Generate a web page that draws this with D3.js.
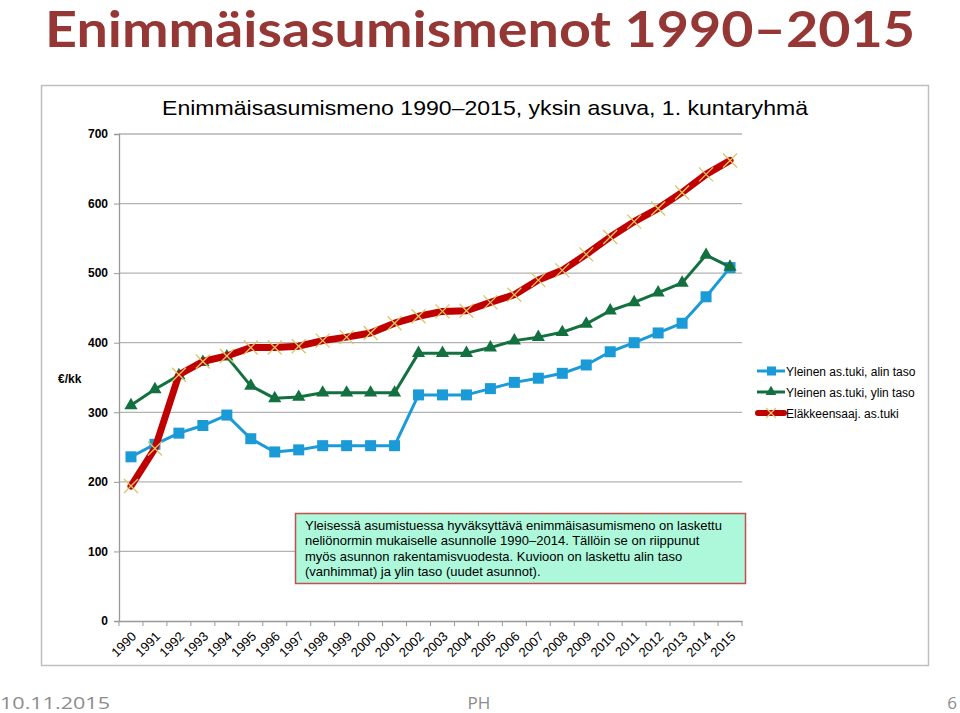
<!DOCTYPE html>
<html>
<head>
<meta charset="utf-8">
<script src="https://cdn.jsdelivr.net/npm/d3@7"></script>
<style>
  html, body { margin: 0; padding: 0; background: #fff; }
  svg { display: block; }
</style>
</head>
<body>
<svg id="chart" width="960" height="713"></svg>
<script>
const years = ["1990","1991","1992","1993","1994","1995","1996","1997","1998","1999","2000","2001","2002","2003","2004","2005","2006","2007","2008","2009","2010","2011","2012","2013","2014","2015"];
const alinTaso = [236, 254, 270, 281, 296, 262, 243, 246, 252, 252, 252, 252, 325, 325, 325, 334, 343, 349, 356, 368, 387, 400, 414, 428, 466, 508];
const ylinTaso = [310, 333, 353, 372, 380, 338, 320, 322, 328, 328, 328, 328, 385, 385, 385, 393, 403, 408, 415, 427, 446, 458, 472, 486, 526, 509];
const elake = [194, 248, 354, 373, 381, 393, 393, 395, 403, 408, 414, 428, 438, 445, 446, 458, 469, 490, 504, 527, 552, 574, 593, 616, 642, 662];
const yTicks = [0, 100, 200, 300, 400, 500, 600, 700];
const seriesNames = ["Yleinen as.tuki, alin taso", "Yleinen as.tuki, ylin taso", "Eläkkeensaaj. as.tuki"];
const slideTitle = "Enimmäisasumismenot 1990–2015";
const chartTitle = "Enimmäisasumismeno 1990–2015, yksin asuva, 1. kuntaryhmä";
const yLabel = "€/kk";
const noteLines = [
  "Yleisessä asumistuessa hyväksyttävä enimmäisasumismeno on laskettu",
  "neliönormin mukaiselle asunnolle 1990–2014. Tällöin se on riippunut",
  "myös asunnon rakentamisvuodesta. Kuvioon on laskettu alin taso",
  "(vanhimmat) ja ylin taso (uudet asunnot)."
];
const footer = ["10.11.2015", "PH", "6"];

const svg = d3.select("#chart");
const BLUE = "#1b9ad8", GREEN = "#13703f", RED = "#c00000", XCOL = "#d8c766";

// slide title
svg.append("text").attr("x", 45).attr("y", 47)
  .attr("font-family", "Lato, 'Open Sans', sans-serif").attr("font-weight", 700)
  .attr("font-size", 49).attr("fill", "#953735")
  .attr("textLength", 870).attr("lengthAdjust", "spacingAndGlyphs")
  .text(slideTitle);

// chart frame
svg.append("rect").attr("x", 41.5).attr("y", 85.5).attr("width", 887).attr("height", 580)
  .attr("fill", "#fff").attr("stroke", "#bfbfbf").attr("stroke-width", 1.5);

svg.append("text").attr("x", 485).attr("y", 115).attr("text-anchor", "middle")
  .attr("font-family", "'Liberation Sans Narrow', 'Liberation Sans', Arial, sans-serif")
  .attr("font-size", 21).attr("fill", "#000")
  .attr("textLength", 646).attr("lengthAdjust", "spacingAndGlyphs")
  .text(chartTitle);

const x = d3.scaleBand().domain(years).range([119, 742]).padding(0);
const y = d3.scaleLinear().domain([0, 700]).range([621, 134]);
const cx = d => x(d) + x.bandwidth() / 2;

// gridlines
svg.append("g").selectAll("line").data(yTicks.filter(v => v > 0)).join("line")
  .attr("x1", 119).attr("x2", 742).attr("y1", d => y(d)).attr("y2", d => y(d))
  .attr("stroke", "#b3b3b3").attr("stroke-width", 1.3);

// y axis
const yAxis = svg.append("g").attr("transform", "translate(119,0)")
  .call(d3.axisLeft(y).tickValues(yTicks).tickSize(5).tickPadding(6));
yAxis.select(".domain").attr("stroke", "#999").attr("stroke-width", 1.3);
yAxis.selectAll(".tick line").attr("stroke", "#999");
yAxis.selectAll(".tick text").attr("font-family", "'Liberation Sans', Arial, sans-serif")
  .attr("font-size", 12).attr("font-weight", 700).attr("fill", "#000");

svg.append("text").attr("x", 58).attr("y", 383)
  .attr("font-family", "'Liberation Sans', Arial, sans-serif").attr("font-size", 12)
  .attr("font-weight", 700).text(yLabel);

// x axis
const xAxis = svg.append("g").attr("transform", "translate(0,621)")
  .call(d3.axisBottom(x).tickSize(0).tickPadding(0));
xAxis.select(".domain").attr("stroke", "#999").attr("stroke-width", 1.3);
xAxis.selectAll(".tick text")
  .attr("font-family", "'Liberation Sans', Arial, sans-serif").attr("font-size", 13)
  .attr("fill", "#000").attr("text-anchor", "end")
  .attr("transform", "translate(3,13) rotate(-45)").attr("dy", "0.35em").attr("y", 0);
// x tick marks at category boundaries
svg.append("g").selectAll("line").data(years.concat(["end"])).join("line")
  .attr("x1", (d, i) => 119 + i * x.step()).attr("x2", (d, i) => 119 + i * x.step())
  .attr("y1", 621).attr("y2", 626).attr("stroke", "#999").attr("stroke-width", 1);

// lines
const line = d3.line().x((d, i) => cx(years[i])).y(d => y(d));

svg.append("path").datum(alinTaso).attr("d", line)
  .attr("fill", "none").attr("stroke", BLUE).attr("stroke-width", 3).attr("stroke-linejoin", "round");
svg.append("g").selectAll("rect").data(alinTaso).join("rect")
  .attr("x", (d, i) => cx(years[i]) - 5.5).attr("y", d => y(d) - 5.5)
  .attr("width", 11).attr("height", 11).attr("fill", BLUE);

svg.append("path").datum(ylinTaso).attr("d", line)
  .attr("fill", "none").attr("stroke", GREEN).attr("stroke-width", 3).attr("stroke-linejoin", "round");
const tri = d3.symbol().type(d3.symbolTriangle).size(75);
svg.append("g").selectAll("path").data(ylinTaso).join("path")
  .attr("d", tri).attr("transform", (d, i) => `translate(${cx(years[i])},${y(d)})`)
  .attr("fill", GREEN);

svg.append("path").datum(elake).attr("d", line)
  .attr("fill", "none").attr("stroke", RED).attr("stroke-width", 7).attr("stroke-linejoin", "round").attr("stroke-linecap", "round");
const xm = svg.append("g").selectAll("g").data(elake).join("g")
  .attr("transform", (d, i) => `translate(${cx(years[i])},${y(d)})`);
xm.append("line").attr("x1", -7).attr("y1", -7).attr("x2", 7).attr("y2", 7).attr("stroke", XCOL).attr("stroke-width", 1.3);
xm.append("line").attr("x1", -7).attr("y1", 7).attr("x2", 7).attr("y2", -7).attr("stroke", XCOL).attr("stroke-width", 1.3);

// legend
const legY = [371, 392, 413];
const leg = svg.append("g");
const legFont = "'Liberation Sans', Arial, sans-serif";
leg.append("line").attr("x1", 757).attr("x2", 785).attr("y1", legY[0]).attr("y2", legY[0]).attr("stroke", BLUE).attr("stroke-width", 3);
leg.append("rect").attr("x", 767).attr("y", legY[0] - 4.5).attr("width", 9).attr("height", 9).attr("fill", BLUE);
leg.append("line").attr("x1", 757).attr("x2", 785).attr("y1", legY[1]).attr("y2", legY[1]).attr("stroke", GREEN).attr("stroke-width", 3);
leg.append("path").attr("d", d3.symbol().type(d3.symbolTriangle).size(50)).attr("transform", `translate(771,${legY[1]})`).attr("fill", GREEN);
leg.append("line").attr("x1", 758).attr("x2", 784).attr("y1", legY[2]).attr("y2", legY[2]).attr("stroke", RED).attr("stroke-width", 6).attr("stroke-linecap", "round");
leg.append("line").attr("x1", 766).attr("y1", legY[2] - 5).attr("x2", 776).attr("y2", legY[2] + 5).attr("stroke", XCOL).attr("stroke-width", 1.2);
leg.append("line").attr("x1", 766).attr("y1", legY[2] + 5).attr("x2", 776).attr("y2", legY[2] - 5).attr("stroke", XCOL).attr("stroke-width", 1.2);
leg.selectAll("text").data(seriesNames).join("text")
  .attr("x", 786).attr("y", (d, i) => legY[i] + 4.5)
  .attr("font-family", legFont).attr("font-size", 12).attr("fill", "#000").text(d => d);

// annotation box
svg.append("rect").attr("x", 295.5).attr("y", 513.5).attr("width", 450).attr("height", 70)
  .attr("fill", "#adf7da").attr("stroke", "#c0504d").attr("stroke-width", 1.5);
svg.append("g").selectAll("text").data(noteLines).join("text")
  .attr("x", 305).attr("y", (d, i) => 530 + i * 15.4)
  .attr("font-family", legFont).attr("font-size", 13).attr("fill", "#000").text(d => d);

// footer
const ff = "'Open Sans', 'Liberation Sans', sans-serif";
svg.append("text").attr("x", 0).attr("y", 709).attr("font-family", ff).attr("font-size", 17)
  .attr("fill", "#8c8c8c").attr("textLength", 110).attr("lengthAdjust", "spacingAndGlyphs").text(footer[0]);
svg.append("text").attr("x", 479).attr("y", 709).attr("text-anchor", "middle").attr("font-family", ff).attr("font-size", 17)
  .attr("fill", "#8c8c8c").text(footer[1]);
svg.append("text").attr("x", 957).attr("y", 709).attr("text-anchor", "end").attr("font-family", ff).attr("font-size", 17)
  .attr("fill", "#8c8c8c").text(footer[2]);
</script>
</body>
</html>
